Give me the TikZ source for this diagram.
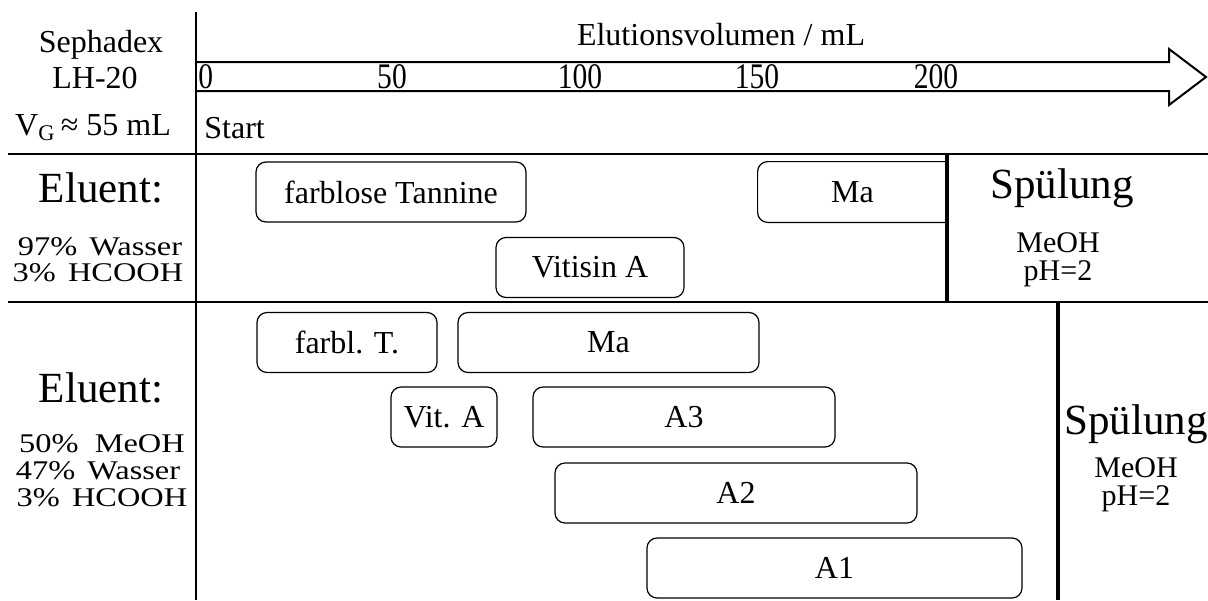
\documentclass[tikz,border=0pt]{standalone}
\usepackage{fontspec}
\setmainfont{Liberation Serif}
\newfontfamily\tickfont{Liberation Serif}[FakeStretch=0.82]
\newfontfamily\compfont{Liberation Serif}[FakeStretch=1.2]
\begin{document}
\begin{tikzpicture}[x=0.5pt,y=-0.5pt,
  sepline/.style={line width=1pt},
  barline/.style={line width=1.6pt},
  arrowline/.style={line width=1pt, line join=miter},
  boxline/.style={line width=0.6pt},
  bx/.style={draw, rounded corners=5pt, line width=0.6pt, inner sep=0pt, minimum height=30pt, font=\fontsize{16}{19}\selectfont},
  txt/.style={inner sep=0pt, font=\fontsize{16}{19}\selectfont, align=center},
  rinse/.style={inner sep=0pt, font=\fontsize{15}{18}\selectfont},
  big/.style={inner sep=0pt, font=\fontsize{21.5}{25}\selectfont},
  comp/.style={inner sep=0pt, font=\compfont\fontsize{13.5}{15}\selectfont},
  tick/.style={inner sep=0pt, font=\tickfont\fontsize{18}{20}\selectfont}
]
\useasboundingbox (0,0) rectangle (1208,600);

% grid lines
\coordinate (dtop) at (196,12);
\coordinate (dbot) at (196,600);
\coordinate (h1l) at (8,154);
\coordinate (h1r) at (1208,154);
\coordinate (h2l) at (8,302);
\coordinate (h2r) at (1208,302);
\coordinate (b1t) at (947,154);
\coordinate (b1b) at (947,302);
\coordinate (b2t) at (1058,302);
\coordinate (b2b) at (1058,600);
\draw[sepline] (dtop) -- (dbot);
\draw[sepline] (h1l) -- (h1r);
\draw[sepline] (h2l) -- (h2r);

% axis arrow
\coordinate (a1) at (196,62);
\coordinate (a2) at (1169,62);
\coordinate (a3) at (1169,49);
\coordinate (a4) at (1206,77);
\coordinate (a5) at (1169,105);
\coordinate (a6) at (1169,91);
\coordinate (a7) at (196,91);
\draw[arrowline] (a1) -- (a2) -- (a3) -- (a4) -- (a5) -- (a6) -- (a7);

\node[txt] (axlab) at (721,35) {Elutionsvolumen / mL};
\node[tick, anchor=west] (t0) at (198,77) {0};
\node[tick] (t50) at (392,77) {50};
\node[tick] (t100) at (580,77) {100};
\node[tick] (t150) at (757,77) {150};
\node[tick] (t200) at (936,77) {200};
\node[txt, anchor=west] (start) at (204,128) {Start};

% header left
\node[txt] (seph) at (101,45) {Sephadex};
\node[txt] (lh) at (95,78) {LH-20};
\node[txt] (vg) at (93,128) {V\textsubscript{G}\,≈ 55 mL};

% row 2
\node[big] (el1) at (101,188) {Eluent:};
\node[comp] (w1) at (100,247) {97\%\hspace{0.45em}Wasser};
\node[comp] (h1) at (98,273) {3\%\hspace{0.45em}HCOOH};

\node[bx, minimum width=135pt] (ft) at (391,192) {farblose Tannine};
\node[txt, minimum width=94.5pt, minimum height=30pt] (ma1) at (852.5,192) {Ma};
\draw[boxline, rounded corners=5pt] (ma1.north east) -- (ma1.north west) -- (ma1.south west) -- (ma1.south east);
\node[bx, minimum width=94pt] (vit) at (590,267.5) {Vitisin A};

\draw[barline] (b1t) -- (b1b);
\node[big] (sp1) at (1062,188) {Spülung};
\node[rinse] (me1) at (1058,243) {MeOH};
\node[rinse] (ph1) at (1058,274) {pH=2};

% row 3
\node[big] (el2) at (101,388) {Eluent:};
\node[comp] (m2) at (102,444) {50\%\hspace{0.6em}MeOH};
\node[comp] (w2) at (98,471) {47\%\hspace{0.45em}Wasser};
\node[comp] (h2) at (102,498) {3\%\hspace{0.45em}HCOOH};

\node[bx, minimum width=90pt] (fT) at (347,342.5) {farbl. T.};
\node[bx, minimum width=150.5pt] (ma2) at (608.5,342.5) {Ma};
\node[bx, minimum width=53pt] (vA) at (444,417) {Vit. A};
\node[bx, minimum width=151pt] (a3b) at (684,417) {A3};
\node[bx, minimum width=181pt] (a2b) at (736,493) {A2};
\node[bx, minimum width=187.5pt] (a1b) at (834.5,568) {A1};

\draw[barline] (b2t) -- (b2b);
\node[big] (sp2) at (1136,424) {Spülung};
\node[rinse] (me2) at (1136,468) {MeOH};
\node[rinse] (ph2) at (1136,499) {pH=2};
\end{tikzpicture}
\end{document}
